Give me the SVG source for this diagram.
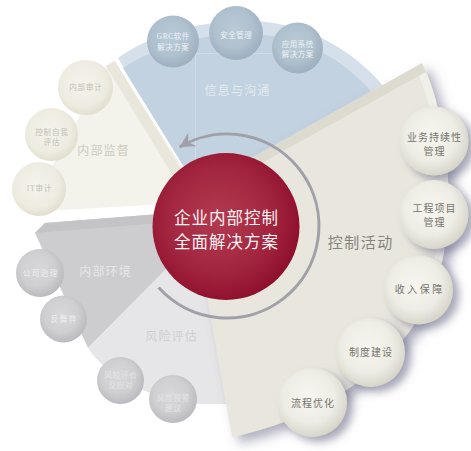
<svg xmlns="http://www.w3.org/2000/svg" width="471" height="451" viewBox="0 0 471 451">
<defs>
<style>
text{font-family:"Liberation Serif","Noto Sans CJK SC",serif;text-anchor:middle}
.rt{font-size:10px;fill:#75746c;letter-spacing:1px}
.bt{font-size:7.5px;fill:#eef2f6;letter-spacing:0.5px}
.lt{font-size:7.5px;fill:#c2c0b4;letter-spacing:0.8px}
.gt{font-size:7.5px;fill:#eeeef0;letter-spacing:1.5px}
.wt{font-size:7.5px;fill:#e4e4e7;letter-spacing:0.8px}
.lab{font-size:12px;letter-spacing:1.2px}
.rc{fill:url(#gBeige);filter:url(#csh)}
.bc{fill:url(#gBlue)}
.lc{fill:url(#gLB)}
.gc{fill:url(#gGray)}
</style>
<radialGradient id="gR" cx="0.45" cy="0.45" r="0.6"><stop offset="0" stop-color="#b23b50"/><stop offset="0.6" stop-color="#a2253f"/><stop offset="1" stop-color="#8b0c2a"/></radialGradient>
<radialGradient id="gBeige" cx="0.45" cy="0.42" r="0.62"><stop offset="0" stop-color="#f6f5f0"/><stop offset="0.6" stop-color="#eeede5"/><stop offset="1" stop-color="#d3d1c5"/></radialGradient>
<radialGradient id="gLB" cx="0.45" cy="0.42" r="0.6"><stop offset="0" stop-color="#f4f3ec"/><stop offset="0.7" stop-color="#eeece1"/><stop offset="1" stop-color="#e0ddcd"/></radialGradient>
<radialGradient id="gBlue" cx="0.45" cy="0.42" r="0.6"><stop offset="0" stop-color="#bacad7"/><stop offset="0.6" stop-color="#afc0ce"/><stop offset="1" stop-color="#9cafc0"/></radialGradient>
<radialGradient id="gGray" cx="0.45" cy="0.42" r="0.6"><stop offset="0" stop-color="#d9d9db"/><stop offset="0.6" stop-color="#cfcfd2"/><stop offset="1" stop-color="#b9b9bd"/></radialGradient>
<filter id="sh" x="-20%" y="-20%" width="150%" height="150%"><feDropShadow dx="7" dy="6" stdDeviation="6" flood-color="#6c6c88" flood-opacity="0.55"/></filter>
<filter id="csh" x="-30%" y="-30%" width="170%" height="170%"><feDropShadow dx="6" dy="5" stdDeviation="4" flood-color="#6c6c88" flood-opacity="0.6"/></filter>
<marker id="ah" markerWidth="16" markerHeight="16" refX="15" refY="8" orient="auto" markerUnits="userSpaceOnUse"><path d="M15,8 L0,0 L5,8 L0,16 Z" fill="#a0a0a8"/></marker>
<clipPath id="cpBeige"><path d="M422,63 C445,110 458,200 440,270 C420,345 340,415 232,437 L189,193 Z"/></clipPath>
<clipPath id="cpBlue"><path d="M123,68 C155,47 200,33 250,34 C305,35 350,63 378,100 L250,200 L200,193 Z"/></clipPath>
</defs>
<rect width="471" height="451" fill="#ffffff"/>

<g id="sectors">
<g id="sector-info">
<path d="M118,58 C150,35 200,20 250,21 C310,22 360,55 388,92 L250,200 L200,193 Z" fill="#d6e0ea"/>
<path d="M123,68 C155,47 200,33 250,34 C305,35 350,63 378,100 L250,200 L200,193 Z" fill="#c2d2e0"/>
<g clip-path="url(#cpBlue)" stroke="#d3dee9" stroke-width="1" opacity="0.8"><line x1="120" y1="53.5" x2="390" y2="53.5"/><line x1="195.5" y1="53.5" x2="195.5" y2="160"/></g>
</g>
<g id="sector-supervision">
<path d="M107,65 L114,61 L200,195 L200,202 L28,212 Z" fill="#f3f2eb"/>
<path d="M106,66 L115,61 L197,195 L186,197 Z" fill="#e9e7dc"/>
</g>
<g id="sector-environment">
<path d="M35,233 L45,223 L185,212 L195,240 L88,348 Z" fill="#cdcdcf"/>
<path d="M35,233 L45,223 L185,212 L185,221 Z" fill="#c4c4c6"/>
</g>
<g id="sector-risk">
<path d="M88,348 L195,240 L240,280 L245,404 L200,404 C150,400 105,375 88,348 Z" fill="#e6e6e8"/>
</g>
<g id="sector-control">
<path d="M422,63 C445,110 458,200 440,270 C420,345 340,415 232,437 L189,193 Z" fill="#e9e7dd" filter="url(#sh)"/>
<g clip-path="url(#cpBeige)">
<path d="M422,63 C445,110 458,200 440,270" fill="none" stroke="#f0efe8" stroke-width="16"/>
<path d="M422,63 L189,193 L191,202 L426,72 Z" fill="#dddbd0"/>
</g>
</g>
</g>

<g id="connectors">
<path d="M158.6,287.6 A92,92 0 1 0 179.6,147.1" fill="none" stroke="#a0a0a8" stroke-width="3" marker-end="url(#ah)"/>
</g>

<g id="n-grc"><circle class="bc" cx="173" cy="41.5" r="26"/><text class="bt" x="173.3" y="38.5">GRC软件</text><text class="bt" x="173.3" y="49.5">解决方案</text></g>
<g id="n-aqgl"><circle class="bc" cx="236" cy="33" r="27"/><text class="bt" x="236.3" y="37.5">安全管理</text></g>
<g id="n-yyxt"><circle class="bc" cx="297.5" cy="48" r="25.5"/><text class="bt" x="297.8" y="46.5">应用系统</text><text class="bt" x="297.8" y="57">解决方案</text></g>

<g id="n-nbsj"><circle class="lc" cx="85.5" cy="87.5" r="27.5"/><text class="lt" x="85.9" y="90">内部审计</text></g>
<g id="n-kzzw"><circle class="lc" cx="51.5" cy="134.5" r="26.5"/><text class="lt" x="51.9" y="134.5">控制自我</text><text class="lt" x="51.9" y="145">评估</text></g>
<g id="n-itsj"><circle class="lc" cx="39" cy="189" r="27"/><text class="lt" x="39.4" y="191">IT审计</text></g>

<g id="n-gszl"><circle class="gc" cx="40" cy="273" r="24"/><text class="gt" x="40.7" y="275.5">公司治理</text></g>
<g id="n-fwb"><circle class="gc" cx="63.5" cy="319" r="23.5"/><text class="gt" x="64.2" y="321.5">反舞弊</text></g>

<g id="n-fxpj"><circle class="gc" cx="120.5" cy="380.5" r="23.5"/><text class="wt" x="120.9" y="377.5">风险评价</text><text class="wt" x="120.9" y="388">及应对</text></g>
<g id="n-fxyj"><circle class="gc" cx="173" cy="399" r="24"/><text class="wt" x="173.4" y="401">风险预警</text><text class="wt" x="173.4" y="410.5">建议</text></g>

<g id="n-ywcx"><circle class="rc" cx="434" cy="141" r="34.5"/><text class="rt" x="434.5" y="140.5">业务持续性</text><text class="rt" x="434.5" y="155">管理</text></g>
<g id="n-gcxm"><circle class="rc" cx="434" cy="214.5" r="34.5"/><text class="rt" x="434.5" y="211.5">工程项目</text><text class="rt" x="434.5" y="225.5">管理</text></g>
<g id="n-srbz"><circle class="rc" cx="418.5" cy="290" r="34.5"/><text class="rt" x="419.8" y="292.5" style="letter-spacing:2.5px">收入保障</text></g>
<g id="n-zdjs"><circle class="rc" cx="370.5" cy="352.5" r="34.5"/><text class="rt" x="371" y="355.5">制度建设</text></g>
<g id="n-lcyh"><circle class="rc" cx="312.5" cy="402.5" r="34.5"/><text class="rt" x="313" y="406.5">流程优化</text></g>

<g id="labels">
<text class="lab" x="237.6" y="94.5" fill="#e3e9ef">信息与沟通</text>
<text class="lab" x="103.6" y="155" fill="#cfccc2">内部监督</text>
<text class="lab" x="105.6" y="275.5" fill="#e6e6e8">内部环境</text>
<text class="lab" x="171.6" y="340.5" fill="#cfcfd3">风险评估</text>
<text x="360.8" y="247.5" fill="#85847b" style="font-size:15px;letter-spacing:1.5px">控制活动</text>
</g>

<g id="n-center">
<circle cx="226" cy="226.5" r="73.5" fill="url(#gR)"/>
<text x="226.5" y="224" fill="#fff3f4" style="font-size:16.5px;letter-spacing:1px">企业内部控制</text>
<text x="226.5" y="248" fill="#fff3f4" style="font-size:16.5px;letter-spacing:1px">全面解决方案</text>
</g>
</svg>
